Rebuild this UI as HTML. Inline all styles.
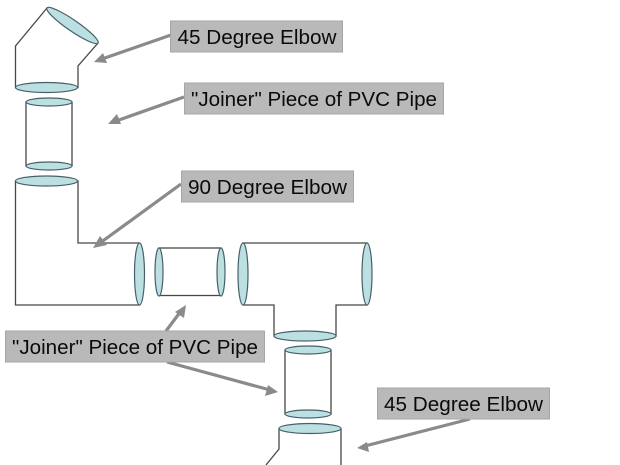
<!DOCTYPE html>
<html>
<head>
<meta charset="utf-8">
<style>
html,body{margin:0;padding:0;background:#fff;width:620px;height:465px;overflow:hidden}
svg{display:block}
text{font-family:"Liberation Sans",sans-serif;font-size:20px;fill:#0a0a0a}
.p{fill:#fff;stroke:#484848;stroke-width:1.300}
.e{fill:#bcdfe2;stroke:#45606a;stroke-width:1.200}
.b{fill:#b9b9b9;stroke:#a6a6a6;stroke-width:1}
.a{stroke:#8a8a8a;stroke-width:3.200;fill:none}
.h{fill:#8a8a8a}
</style>
</head>
<body>
<svg width="620" height="465" viewBox="0 0 620 465" xmlns="http://www.w3.org/2000/svg">
<!-- 45 elbow top -->
<path class="p" d="M47 8L15.500 46V87.500H78V66L98 43Z"/>
<ellipse class="e" cx="72.500" cy="25.500" rx="31" ry="5.500" transform="rotate(34.500 72.500 25.500)"/>
<ellipse class="e" cx="46.500" cy="87.500" rx="31" ry="5"/>
<!-- joiner 1 -->
<rect class="p" x="26" y="102" width="46" height="64"/>
<ellipse class="e" cx="49" cy="102" rx="23" ry="4"/>
<ellipse class="e" cx="49" cy="166" rx="23" ry="4"/>
<!-- 90 elbow -->
<path class="p" d="M15.500 181V305H139.500V243H78V181Z"/>
<ellipse class="e" cx="46.500" cy="181" rx="31" ry="5"/>
<ellipse class="e" cx="139.500" cy="274" rx="5" ry="31"/>
<!-- joiner 2 -->
<rect class="p" x="159" y="248" width="62" height="47.500"/>
<ellipse class="e" cx="159" cy="272" rx="4" ry="24"/>
<ellipse class="e" cx="221" cy="272" rx="4" ry="24"/>
<!-- tee -->
<path class="p" d="M243 243H367V305H336V336H274V305H243Z"/>
<ellipse class="e" cx="243" cy="274" rx="5" ry="31"/>
<ellipse class="e" cx="367" cy="274" rx="5" ry="31"/>
<ellipse class="e" cx="305" cy="336" rx="31" ry="5"/>
<!-- joiner 3 -->
<rect class="p" x="285" y="350" width="46" height="64"/>
<ellipse class="e" cx="308" cy="350" rx="23" ry="4"/>
<ellipse class="e" cx="308" cy="414" rx="23" ry="4"/>
<!-- bottom elbow -->
<path d="M279 428.500V449L266 465H341V428.500Z" fill="#fff"/>
<path d="M279 428.500V449L266 465M341 428.500V465" fill="none" stroke="#484848" stroke-width="1.300"/>
<ellipse class="e" cx="310" cy="428.500" rx="31" ry="5"/>
<!-- arrows -->
<line class="a" x1="171" y1="35" x2="102" y2="59"/>
<polygon class="h" points="94,62 103,53 107,63"/>
<line class="a" x1="184" y1="97" x2="116" y2="121"/>
<polygon class="h" points="108,124 117,114 121,124"/>
<line class="a" x1="181" y1="184" x2="100" y2="243"/>
<polygon class="h" points="93,248 100,236 107,245"/>
<line class="a" x1="166" y1="331" x2="181" y2="311"/>
<polygon class="h" points="186,305 184,318 175,312"/>
<line class="a" x1="167" y1="362" x2="270" y2="390"/>
<polygon class="h" points="278,392 265,396 268,385"/>
<line class="a" x1="470" y1="419" x2="365" y2="446"/>
<polygon class="h" points="357,448 367,442 369,452"/>
<!-- labels -->
<rect class="b" x="170.500" y="21" width="172" height="31"/>
<text x="177.500" y="44" textLength="159" lengthAdjust="spacingAndGlyphs">45 Degree Elbow</text>
<rect class="b" x="184.500" y="83" width="259" height="31"/>
<text x="191" y="106" textLength="246" lengthAdjust="spacingAndGlyphs">"Joiner" Piece of PVC Pipe</text>
<rect class="b" x="181.500" y="171" width="172" height="31"/>
<text x="188" y="194" textLength="159" lengthAdjust="spacingAndGlyphs">90 Degree Elbow</text>
<rect class="b" x="5.500" y="331" width="259" height="31"/>
<text x="12" y="354" textLength="246" lengthAdjust="spacingAndGlyphs">"Joiner" Piece of PVC Pipe</text>
<rect class="b" x="377.500" y="388" width="172" height="31"/>
<text x="384" y="411" textLength="159" lengthAdjust="spacingAndGlyphs">45 Degree Elbow</text>
</svg>
</body>
</html>
